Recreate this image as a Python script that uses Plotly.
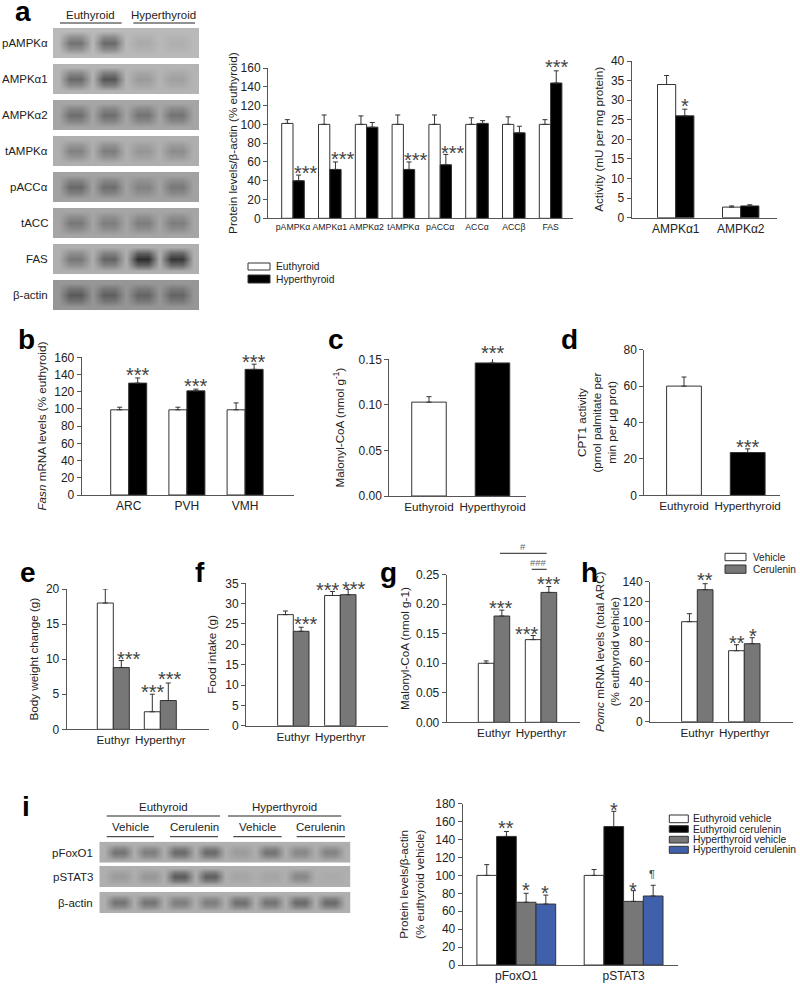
"""Multi-panel western blot and bar chart figure (panels a to i)."""

import plotly.graph_objects as go

FONT = "Liberation Sans, Arial, sans-serif"
WHITE = "#ffffff"
BLACK = "#000000"
GREY = "#777777"
BLUE = "#4060ac"
EDGE = "#333333"
W, H = 800, 986

# panel a blots: background grey level and band grey level per lane
BLOT_A_LABELS = ["pAMPKα", "AMPKα1", "AMPKα2", "tAMPKα", "pACCα", "tACC", "FAS", "β-actin"]
BLOT_A_BG = [185, 180, 165, 175, 162, 165, 175, 150]
BLOT_A_BANDS = [
    [115, 105, 170, 175],
    [105, 85, 155, 160],
    [110, 110, 115, 115],
    [130, 125, 150, 140],
    [105, 110, 130, 120],
    [120, 125, 125, 125],
    [120, 100, 45, 55],
    [90, 95, 100, 100],
]

# panel i blots
BLOT_I_LABELS = ["pFoxO1", "pSTAT3", "β-actin"]
BLOT_I_BG = [175, 175, 175]
BLOT_I_BANDS = [
    [115, 125, 105, 105, 155, 115, 135, 130],
    [155, 150, 90, 95, 165, 165, 135, 170],
    [115, 115, 125, 125, 110, 115, 105, 105],
]

A1_CATS = ["pAMPKα", "AMPKα1", "AMPKα2", "tAMPKα", "pACCα", "ACCα", "ACCβ", "FAS"]
A1_EUTHY = [101, 100, 100, 100, 100, 100, 100, 100]
A1_EUTHY_ERR = [4, 10, 9, 10, 10, 7, 8, 5]
A1_HYPER = [40, 52, 97, 52, 57, 101, 91, 144]
A1_HYPER_ERR = [6, 8, 5, 8, 11, 3, 7, 13]
A1_STARS = [(0.35, 53, "***"), (1.35, 67, "***"), (3.35, 66, "***"), (4.35, 74, "***"), (7.17, 165, "***")]

A2_CATS = ["AMPKα1", "AMPKα2"]
A2_EUTHY = [34, 2.7]
A2_EUTHY_ERR = [2.3, 0.3]
A2_HYPER = [26, 3.0]
A2_HYPER_ERR = [1.7, 0.3]
A2_STARS = [(0.14, 29.5, "*")]

B_CATS = ["ARC", "PVH", "VMH"]
B_EUTHY = [99, 99, 99]
B_EUTHY_ERR = [3, 3, 8]
B_HYPER = [130, 121, 146]
B_HYPER_ERR = [6, 2, 6]
B_STARS = [(0.155, 144.6, "***"), (1.155, 131, "***"), (2.155, 159, "***")]

CD_CATS = ["Euthyroid", "Hyperthyroid"]
C_VALUES = [0.103, 0.146]
C_ERR = [0.006, 0.007]
C_STARS = [(1, 0.161, "***")]
D_VALUES = [60, 23.5]
D_ERR = [5, 2]
D_STARS = [(1, 29, "***")]

EH_CATS = ["Euthyr", "Hyperthyr"]
E_VEHICLE = [18, 2.5]
E_VEHICLE_ERR = [2, 2.5]
E_CERULENIN = [8.8, 4.1]
E_CERULENIN_ERR = [1, 2.5]
E_STARS = [(0.34, 10.6, "***"), (0.85, 5.9, "***"), (1.21, 7.75, "***")]

F_VEHICLE = [27.3, 32]
F_VEHICLE_ERR = [0.9, 1]
F_CERULENIN = [23.2, 32.2]
F_CERULENIN_ERR = [1, 1.3]
F_STARS = [(0.28, 26, "***"), (0.745, 34.4, "***"), (1.29, 34.7, "***")]

G_VEHICLE = [0.10, 0.14]
G_VEHICLE_ERR = [0.004, 0.007]
G_CERULENIN = [0.18, 0.22]
G_CERULENIN_ERR = [0.01, 0.01]
G_STARS = [(0.15, 0.2, "***"), (0.7, 0.157, "***"), (1.17, 0.241, "***")]

H_VEHICLE = [100, 71]
H_VEHICLE_ERR = [8, 6]
H_CERULENIN = [132, 78]
H_CERULENIN_ERR = [6, 6]
H_STARS = [(0.16, 145.7, "**"), (0.84, 82.3, "**"), (1.19, 90, "*")]

I_CATS = ["pFoxO1", "pSTAT3"]
I_EUTHY_VEH = [100, 100]
I_EUTHY_VEH_ERR = [12, 6.5]
I_EUTHY_CER = [143.5, 154.5]
I_EUTHY_CER_ERR = [5.5, 17]
I_HYPER_VEH = [70, 71]
I_HYPER_VEH_ERR = [10, 12]
I_HYPER_CER = [68, 77]
I_HYPER_CER_ERR = [10, 12]
I_STARS = [(-0.093, 157, "**"), (0.087, 88.5, "*"), (0.27, 85, "*"), (0.91, 177.7, "*"), (1.09, 88, "*"), (1.26, 101, "¶")]

fig = go.Figure()
annotations = []
shapes = []
axis_count = 0


def next_axes():
    global axis_count
    axis_count += 1
    return axis_count


def px(x):
    return x / W


def py(y):
    return 1 - y / H


def text(x, y, s, size=11.5, anchor="center", color="#222222", bold=False):
    annotations.append(
        dict(
            text=f"<b>{s}</b>" if bold else s,
            x=px(x),
            y=py(y),
            xref="paper",
            yref="paper",
            xanchor=anchor,
            yanchor="middle",
            showarrow=False,
            font=dict(family=FONT, size=size, color=color),
        )
    )


def rule(x0, x1, y, color="#222222"):
    shapes.append(
        dict(type="line", xref="paper", yref="paper", x0=px(x0), x1=px(x1), y0=py(y), y1=py(y),
             line=dict(color=color, width=1))
    )


def swatch(x0, x1, y0, y1, color):
    shapes.append(
        dict(type="rect", xref="paper", yref="paper", x0=px(x0), x1=px(x1), y0=py(y0), y1=py(y1),
             fillcolor=color, line=dict(color=EDGE, width=1))
    )


def add_blot(box, bg, bands):
    """One blot strip as a smoothed greyscale heatmap."""
    x0, x1, y0, y1 = box
    strip = [bg]
    for b in bands:
        strip += [b, b, bg]
    z = []
    for weight in [0, 0.6, 1, 0.6, 0]:
        z.append([bg + weight * (v - bg) for v in strip])
    n = next_axes()
    fig.add_trace(
        go.Heatmap(
            z=z,
            colorscale=[[0, "#000000"], [1, "#ffffff"]],
            zmin=0,
            zmax=255,
            zsmooth="best",
            showscale=False,
            hoverinfo="skip",
            xaxis=f"x{n}",
            yaxis=f"y{n}",
        )
    )
    fig.layout[f"xaxis{n}"] = dict(domain=[px(x0), px(x1)], visible=False, anchor=f"y{n}")
    fig.layout[f"yaxis{n}"] = dict(domain=[py(y1), py(y0)], visible=False, anchor=f"x{n}")


def add_bars(box, center0, unit, bar_px, cats, series, ymax, dtick, stars, title, standoff=8,
             tickfmt=None, cat_size=12, star_size=20):
    """Bar panel; box is the axis frame in pixels (left, right, top, bottom)."""
    left, right, top, bottom = box
    n = next_axes()
    width = bar_px / unit
    count = len(series)
    for j, (values, errs, color) in enumerate(series):
        fig.add_trace(
            go.Bar(
                x=cats,
                y=values,
                width=width,
                offset=(j - count / 2) * width,
                marker=dict(color=color, line=dict(color=EDGE, width=1)),
                error_y=dict(type="data", array=errs, arrayminus=[0] * len(errs), symmetric=False,
                             color=EDGE, thickness=1, width=2.5),
                showlegend=False,
                xaxis=f"x{n}",
                yaxis=f"y{n}",
            )
        )
    fig.layout[f"xaxis{n}"] = dict(
        domain=[px(left), px(right)],
        anchor=f"y{n}",
        type="category",
        categoryorder="array",
        categoryarray=cats,
        range=[(left - center0) / unit, (right - center0) / unit],
        showline=True,
        linecolor="#555555",
        linewidth=1,
        showgrid=False,
        ticks="",
        tickmode="linear",
        tick0=0,
        dtick=1,
        tickangle=0,
        tickfont=dict(family=FONT, size=cat_size, color="#222222"),
    )
    fig.layout[f"yaxis{n}"] = dict(
        domain=[py(bottom), py(top)],
        anchor=f"x{n}",
        range=[0, ymax],
        tick0=0,
        dtick=dtick,
        tickformat=tickfmt,
        showline=True,
        linecolor="#555555",
        linewidth=1,
        showgrid=False,
        zeroline=False,
        ticks="outside",
        ticklen=4,
        tickcolor="#555555",
        tickfont=dict(family=FONT, size=12, color="#222222"),
        title=dict(text=title, standoff=standoff, font=dict(family=FONT, size=11.7, color="#222222")),
    )
    for x, y, label in stars:
        annotations.append(
            dict(
                text=label,
                x=x,
                y=y / ymax,
                xref=f"x{n}",
                yref=f"y{n} domain",
                xanchor="center",
                yanchor="middle",
                showarrow=False,
                yshift=-4 if label != "¶" else 0,
                font=dict(family=FONT, size=star_size if label != "¶" else 11, color="#444444"),
            )
        )


# panel a blots
for i, label in enumerate(BLOT_A_LABELS):
    top = 28 + i * 36
    add_blot((53, 199, top, top + 30), BLOT_A_BG[i], BLOT_A_BANDS[i])
    text(50, top + 15, label, anchor="right")
text(90.7, 15, "Euthyroid")
text(163.3, 15, "Hyperthyroid")
rule(60, 121.7, 23)
rule(133.3, 195, 23)

# panel i blots
for i, label in enumerate(BLOT_I_LABELS):
    top = [841.7, 866, 892][i]
    add_blot((99.3, 350.7, top, top + 21), BLOT_I_BG[i], BLOT_I_BANDS[i])
    text(95, top + 11, label, anchor="right")
for x, label in [(163, "Euthyroid"), (284, "Hyperthyroid")]:
    text(x, 807, label)
rule(106.7, 220, 816)
rule(228, 341.3, 816)
for x, label, x0, x1 in [
    (130, "Vehicle", 106.7, 154),
    (194, "Cerulenin", 170, 218),
    (257.3, "Vehicle", 233.3, 281.7),
    (320.7, "Cerulenin", 296.7, 345),
]:
    text(x, 827, label)
    rule(x0, x1, 836.7)

# bar panels
add_bars((268, 573, 68, 218.3), 293, 36.8, 11.3, A1_CATS,
         [(A1_EUTHY, A1_EUTHY_ERR, WHITE), (A1_HYPER, A1_HYPER_ERR, BLACK)],
         160, 20, A1_STARS, "Protein levels/β-actin (% euthyroid)", standoff=0.3, cat_size=8.7)
add_bars((631.7, 776.7, 61, 217.7), 675.7, 65, 18.2, A2_CATS,
         [(A2_EUTHY, A2_EUTHY_ERR, WHITE), (A2_HYPER, A2_HYPER_ERR, BLACK)],
         40, 5, A2_STARS, "Activity (mU per mg protein)", standoff=4)
add_bars((81.7, 294, 357.3, 495), 128.7, 58.2, 18, B_CATS,
         [(B_EUTHY, B_EUTHY_ERR, WHITE), (B_HYPER, B_HYPER_ERR, BLACK)],
         160, 20, B_STARS, "<i>Fasn</i> mRNA levels (% euthyroid)", standoff=5)
add_bars((389.3, 525.7, 359.3, 496), 429, 63.5, 34.5, CD_CATS,
         [(C_VALUES, C_ERR, [WHITE, BLACK])],
         0.15, 0.05, C_STARS, "Malonyl-CoA (nmol g<sup>-1</sup>)", standoff=11, tickfmt=".2f", cat_size=11.7)
add_bars((644.3, 780, 349.7, 495.3), 684, 63.7, 34.8, CD_CATS,
         [(D_VALUES, D_ERR, [WHITE, BLACK])],
         80, 20, D_STARS, "CPT1 activity<br>(pmol palmitate per<br>min per µg prot)", standoff=4, cat_size=11.7)
add_bars((66.7, 209, 589, 729.3), 113.3, 47, 16, EH_CATS,
         [(E_VEHICLE, E_VEHICLE_ERR, WHITE), (E_CERULENIN, E_CERULENIN_ERR, GREY)],
         20, 5, E_STARS, "Body weight change (g)", standoff=4, cat_size=11.7)
add_bars((246, 388, 583.3, 725.7), 293.3, 47, 15.7, EH_CATS,
         [(F_VEHICLE, F_VEHICLE_ERR, WHITE), (F_CERULENIN, F_CERULENIN_ERR, GREY)],
         35, 5, F_STARS, "Food intake (g)", standoff=6, cat_size=11.7)
add_bars((446.7, 580, 574.7, 722.3), 494, 47, 15.7, EH_CATS,
         [(G_VEHICLE, G_VEHICLE_ERR, WHITE), (G_CERULENIN, G_CERULENIN_ERR, GREY)],
         0.25, 0.05, G_STARS, "Malonyl-CoA (nmol g-1)", standoff=3, tickfmt=".2f", cat_size=11.7)
add_bars((650, 792.7, 581.7, 721.7), 697.3, 47, 15.7, EH_CATS,
         [(H_VEHICLE, H_VEHICLE_ERR, WHITE), (H_CERULENIN, H_CERULENIN_ERR, GREY)],
         140, 20, H_STARS, "<i>Pomc</i> mRNA levels (total ARC)<br>(% euthyroid vehicle)", standoff=0, cat_size=11.7)
add_bars((462.7, 678.3, 803.7, 965), 516.3, 107.3, 19.7, I_CATS,
         [
             (I_EUTHY_VEH, I_EUTHY_VEH_ERR, WHITE),
             (I_EUTHY_CER, I_EUTHY_CER_ERR, BLACK),
             (I_HYPER_VEH, I_HYPER_VEH_ERR, GREY),
             (I_HYPER_CER, I_HYPER_CER_ERR, BLUE),
         ],
         180, 20, I_STARS, "Protein levels/β-actin<br>(% euthyroid vehicle)")

# legends
swatch(248, 270, 263, 270, WHITE)
swatch(248, 270, 275, 283, BLACK)
text(274, 266.5, "Euthyroid", size=10.3, anchor="left")
text(274, 279, "Hyperthyroid", size=10.3, anchor="left")

swatch(725, 746, 553.3, 560.7, WHITE)
swatch(725, 746, 565, 573.3, GREY)
text(750.7, 557.5, "Vehicle", size=10, anchor="left")
text(750.7, 569.5, "Cerulenin", size=10, anchor="left")

for y0, y1, color, label in [
    (815, 822.7, WHITE, "Euthyroid vehicle"),
    (825.7, 832.3, BLACK, "Euthyroid cerulenin"),
    (836.3, 843, GREY, "Hyperthyroid vehicle"),
    (846.3, 853.3, BLUE, "Hyperthyroid cerulenin"),
]:
    swatch(669.3, 688.3, y0, y1, color)
    text(690.7, (y0 + y1) / 2, label, size=10.3, anchor="left")

# significance brackets in panel g
rule(500, 546.7, 553.3)
rule(531.7, 546.7, 569.3)
text(523.3, 546, "#", size=9.5, color="#666666")
text(538.7, 562.3, "###", size=9.5, color="#666666")

# panel letters
for x, y, letter in [
    (12.7, 11, "a"), (16, 339, "b"), (326, 339, "c"), (559, 339, "d"), (18, 572, "e"),
    (193, 572, "f"), (378, 572, "g"), (579, 572, "h"), (20, 806, "i"),
]:
    text(x, y, letter, size=28, anchor="left", color=BLACK, bold=True)

fig.update_layout(
    template="none",
    width=W,
    height=H,
    margin=dict(l=0, r=0, t=0, b=0),
    paper_bgcolor="white",
    plot_bgcolor="white",
    barmode="group",
    showlegend=False,
    annotations=annotations,
    shapes=shapes,
)
fig.write_html("out.html", config={"displayModeBar": False}, post_script="document.body.style.margin='0';")
